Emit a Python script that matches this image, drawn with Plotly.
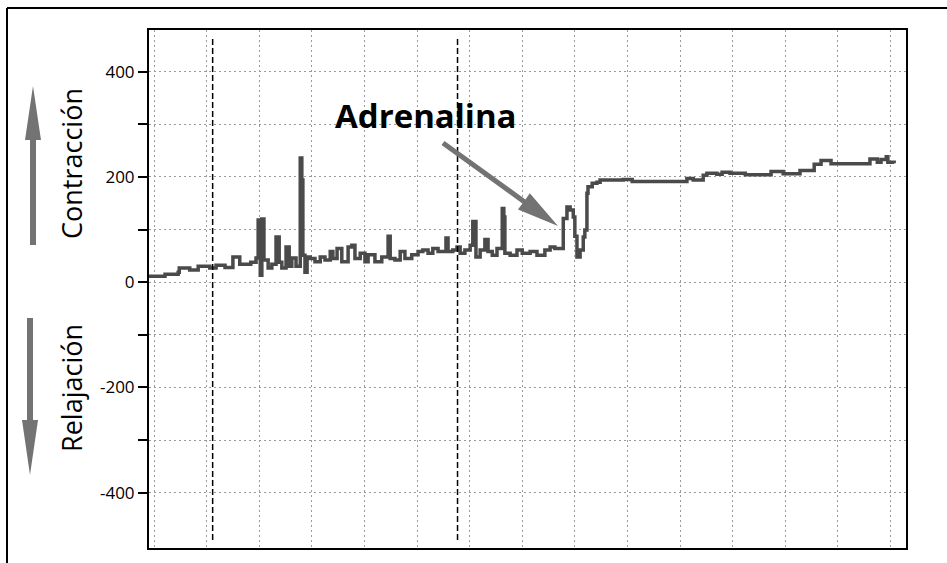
import plotly.graph_objects as go

# ---- data ----
time = [-0.95, 2.1, 4.6, 4.8, 6.8, 8.4, 10.6, 11.8, 13.5, 15.0,
        16.3, 18.4, 19.4, 19.8, 20.2, 20.5, 20.9, 21.7, 22.4, 23.2,
        23.8, 24.3, 25.1, 25.7, 26.2, 27.0, 27.8, 28.1, 28.3, 28.7,
        29.1, 29.7, 30.6, 31.6, 32.5, 33.5, 34.0, 34.8, 35.7, 36.9,
        37.6, 38.2, 39.2, 40.1, 40.7, 42.0, 43.3, 44.5, 44.9, 45.8,
        46.8, 47.7, 49.0, 50.2, 51.1, 52.1, 53.0, 54.0, 55.5, 55.9,
        56.8, 57.6, 58.2, 59.1, 60.1, 60.6, 61.2, 62.0, 62.9, 63.5,
        64.3, 65.2, 66.2, 66.5, 66.7, 67.7, 69.0, 70.0, 71.5, 72.8,
        74.3, 75.3, 76.2, 77.8, 78.5, 79.1, 79.7, 80.0, 80.4, 81.0,
        81.6, 81.9, 82.3, 82.5, 83.3, 84.2, 84.8, 89.2, 90.9, 101.3,
        102.5, 104.4, 105.1, 107.0, 108.0, 109.5, 112.4, 117.3, 119.6, 122.8,
        125.5, 126.8, 128.7, 136.1, 137.5, 138.2, 139.2, 139.5, 140.7]

tension = [11, 15, 19, 27, 23, 30, 27, 32, 28, 48,
           34, 38, 46, 118, 13, 120, 42, 27, 34, 86,
           38, 27, 67, 30, 46, 30, 236, 194, 51, 19,
           48, 45, 39, 48, 42, 58, 45, 64, 39, 67,
           70, 45, 55, 39, 52, 39, 48, 87, 45, 42,
           58, 45, 52, 58, 61, 55, 64, 58, 84, 58,
           61, 67, 55, 61, 70, 115, 48, 61, 81, 58,
           51, 64, 140, 124, 55, 51, 61, 55, 58, 51,
           61, 67, 64, 121, 143, 137, 124, 87, 48, 61,
           86, 99, 169, 181, 188, 190, 194, 195, 191, 197,
           194, 203, 207, 205, 209, 207, 204, 210, 206, 212,
           224, 231, 225, 234, 228, 233, 238, 228, 226]

y_ticks = [-400, -300, -200, -100, 0, 100, 200, 300, 400]
y_tick_labels = ["-400", "", "-200", "", "0", "", "200", "", "400"]
marker_times = [11.15, 57.7]

# ---- figure ----
W, H = 947, 563
L, R, T, B = 149, 41, 30, 15
pw, ph = W - L - R, H - T - B


def px(x):
    return (x - L) / pw


def py(y):
    return (H - B - y) / ph


def path(points):
    return "M " + " L ".join(f"{px(a):.5f},{py(b):.5f}" for a, b in points) + " Z"


fig = go.Figure()
fig.add_trace(go.Scatter(
    x=time, y=tension, mode="lines", line_shape="hv",
    line=dict(color="#4a4a4a", width=3.5), hoverinfo="skip"))

grid = dict(showgrid=True, gridcolor="#9a9a9a", gridwidth=1, griddash="2px,3px",
            zeroline=False, showline=True, mirror=True, linecolor="black", linewidth=2)

fig.update_xaxes(range=[-0.95, 142.95], dtick=10, tick0=0, showticklabels=False,
                 ticks="", **grid)
fig.update_yaxes(range=[-505, 479], tickmode="array", tickvals=y_ticks,
                 ticktext=y_tick_labels, ticks="outside", ticklen=9, tickwidth=1.5,
                 tickcolor="black", tickfont=dict(family="Open Sans", size=17, color="black"),
                 **grid)

shapes = []
for t in marker_times:
    shapes.append(dict(type="line", xref="x", yref="y", x0=t, x1=t, y0=-490, y1=465,
                       line=dict(color="black", width=1.5, dash="6px,3px")))

arrow_col = "#737373"
# up arrow (Contracción)
shapes.append(dict(type="path", xref="paper", yref="paper", fillcolor=arrow_col,
                   line=dict(width=0),
                   path=path([(30, 245), (30, 140), (25, 140), (33, 86), (41, 140),
                              (36, 140), (36, 245)])))
# down arrow (Relajación)
shapes.append(dict(type="path", xref="paper", yref="paper", fillcolor=arrow_col,
                   line=dict(width=0),
                   path=path([(27, 318), (27, 420), (22, 420), (30, 475), (38, 420),
                              (33, 420), (33, 318)])))
# Adrenalina arrow
shapes.append(dict(type="path", xref="paper", yref="paper", fillcolor=arrow_col,
                   line=dict(width=0),
                   path=path([(441.5, 145.0), (522.4, 203.4), (518.0, 209.5), (558, 226),
                              (529.8, 193.3), (525.4, 199.4), (444.5, 141.0)])))
# outer frame
shapes.append(dict(type="line", xref="paper", yref="paper", x0=px(7), x1=px(960),
                   y0=py(8), y1=py(8), line=dict(color="black", width=2)))
shapes.append(dict(type="line", xref="paper", yref="paper", x0=px(7), x1=px(7),
                   y0=py(8), y1=py(580), line=dict(color="black", width=2)))

annotations = [
    dict(text="<b>Adrenalina</b>", x=px(426), y=py(115), xref="paper", yref="paper",
         showarrow=False, xanchor="center", yanchor="middle",
         font=dict(family="Open Sans", size=33, color="black")),
    dict(text="Contracción", x=px(71), y=py(164), xref="paper", yref="paper",
         showarrow=False, textangle=-90, xanchor="center", yanchor="middle",
         font=dict(family="Open Sans", size=27, color="black")),
    dict(text="Relajación", x=px(71), y=py(388), xref="paper", yref="paper",
         showarrow=False, textangle=-90, xanchor="center", yanchor="middle",
         font=dict(family="Open Sans", size=27, color="black")),
]

fig.update_layout(width=W, height=H, margin=dict(l=L, r=R, t=T, b=B),
                  plot_bgcolor="white", paper_bgcolor="white", showlegend=False,
                  shapes=shapes, annotations=annotations)

fig.write_html("out.html", config={"displayModeBar": False},
               post_script="document.body.style.margin='0';document.body.style.overflow='hidden';")
